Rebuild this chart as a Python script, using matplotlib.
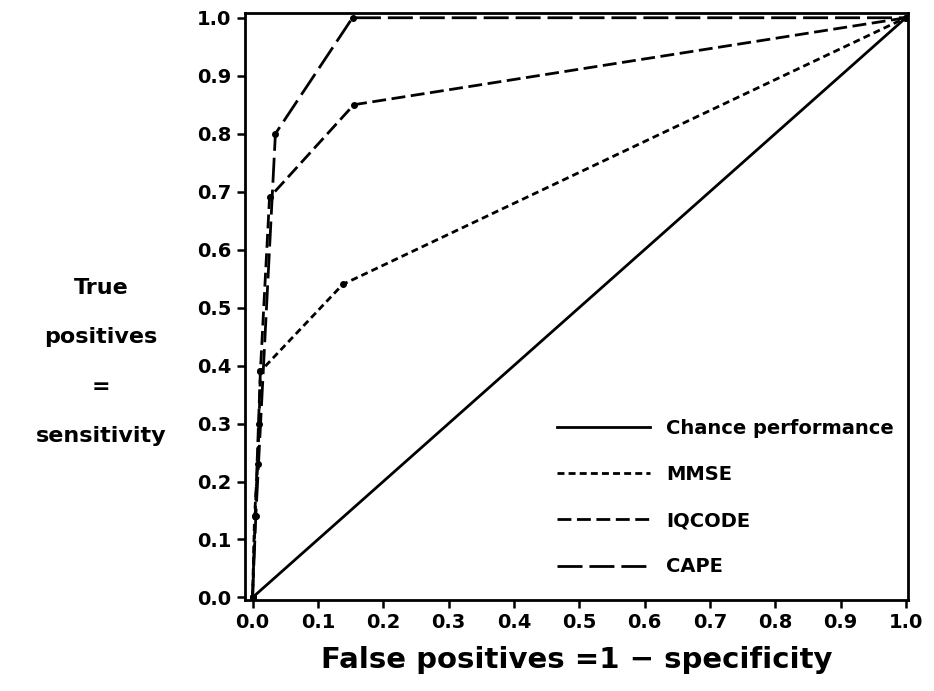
import matplotlib
matplotlib.use("Agg")
import matplotlib.pyplot as plt

# ROC data
chance_x = [0.0, 1.0]
chance_y = [0.0, 1.0]

mmse_x = [0.0, 0.003, 0.008, 0.01, 0.012, 0.138, 1.0]
mmse_y = [0.0, 0.14, 0.23, 0.30, 0.39, 0.54, 1.0]

iqcode_x = [0.0, 0.004, 0.012, 0.026, 0.155, 1.0]
iqcode_y = [0.0, 0.14, 0.39, 0.69, 0.85, 1.0]

cape_x = [0.0, 0.005, 0.035, 0.153, 1.0]
cape_y = [0.0, 0.14, 0.80, 1.0, 1.0]

x_ticks = [0.0, 0.1, 0.2, 0.3, 0.4, 0.5, 0.6, 0.7, 0.8, 0.9, 1.0]
y_ticks = [0.0, 0.1, 0.2, 0.3, 0.4, 0.5, 0.6, 0.7, 0.8, 0.9, 1.0]

plt.rcParams['font.family'] = 'DejaVu Sans'
plt.rcParams['font.weight'] = 'bold'

fig = plt.figure(figsize=(9.34, 6.91), dpi=100)
ax = fig.add_axes([0.262, 0.132, 0.71, 0.849])

ax.plot(chance_x, chance_y, color='black', lw=2, label='Chance performance')
ax.plot(mmse_x, mmse_y, color='black', lw=2, linestyle=(0, (2.5, 1.5)),
        marker='o', markersize=4, label='MMSE')
ax.plot(iqcode_x, iqcode_y, color='black', lw=2, linestyle=(0, (5, 2)),
        marker='o', markersize=4, label='IQCODE')
ax.plot(cape_x, cape_y, color='black', lw=2, linestyle=(0, (9, 2.5)),
        marker='o', markersize=4, label='CAPE')

ax.set_xlim(-0.012, 1.003)
ax.set_ylim(-0.004, 1.008)
ax.set_xticks(x_ticks)
ax.set_yticks(y_ticks)
ax.set_xticklabels([f"{t:.1f}" for t in x_ticks])
ax.set_yticklabels([f"{t:.1f}" for t in y_ticks])
ax.tick_params(labelsize=14, width=1.8, length=6, direction='out')
for lab in ax.get_xticklabels() + ax.get_yticklabels():
    lab.set_fontweight('bold')
for s in ax.spines.values():
    s.set_linewidth(2)

ax.set_xlabel('False positives =1 \u2212 specificity', fontsize=21,
              fontweight='bold', labelpad=10)

fig.text(0.108, 0.476, 'True\n\npositives\n\n=\n\nsensitivity', ha='center',
         va='center', fontsize=16, fontweight='bold', linespacing=1.3)

leg = ax.legend(loc='lower right', bbox_to_anchor=(1.005, 0.01), frameon=False,
                fontsize=14, handlelength=4.8, handletextpad=0.8,
                labelspacing=1.4, markerscale=0.0001)
for t in leg.get_texts():
    t.set_fontweight('bold')

fig.savefig('out.png', dpi=100)
